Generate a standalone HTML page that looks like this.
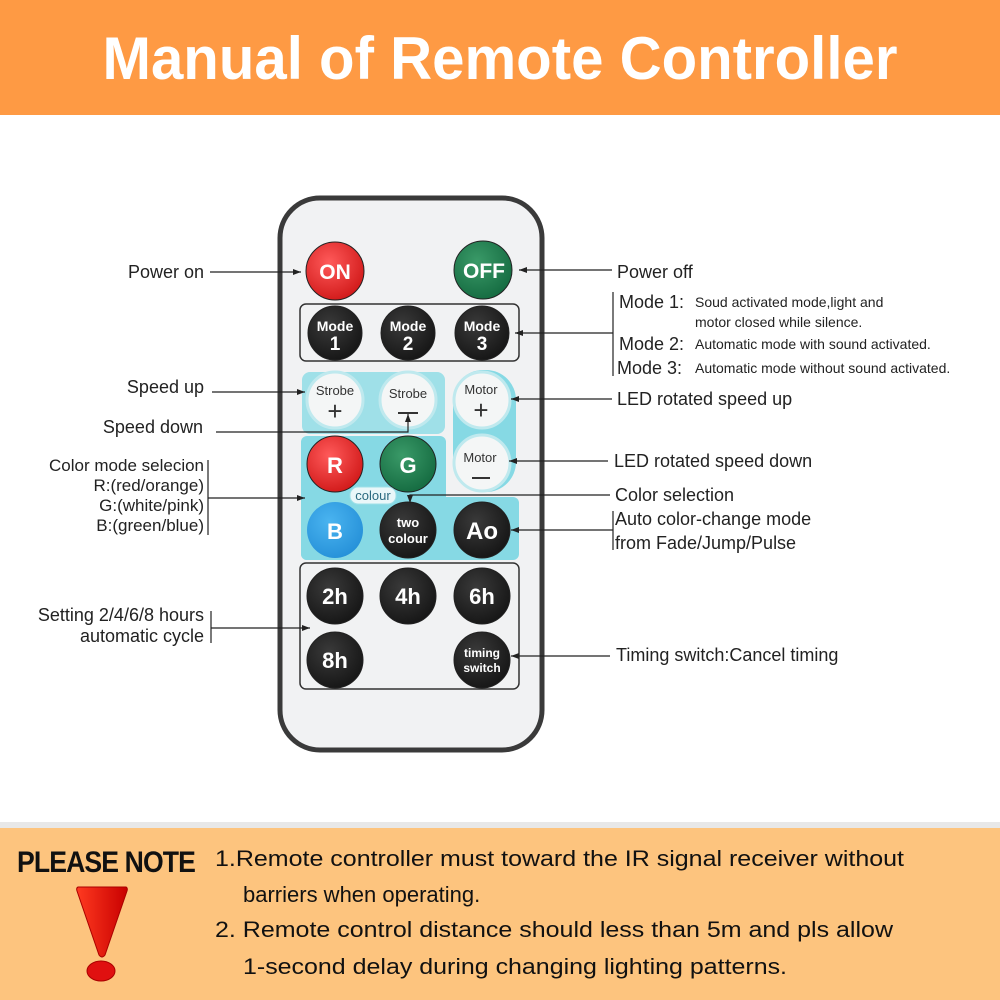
<!DOCTYPE html>
<html><head><meta charset="utf-8"><style>
html,body{margin:0;padding:0;background:#fff}
svg{display:block}
text{font-family:"Liberation Sans",sans-serif}
</style></head><body>
<svg width="1000" height="1000" viewBox="0 0 1000 1000" xmlns="http://www.w3.org/2000/svg">
<defs>
<marker id="a" markerWidth="8" markerHeight="6" refX="8" refY="3" orient="auto" markerUnits="userSpaceOnUse"><path d="M0,0 L8,3 L0,6 Z" fill="#222"/></marker>
<radialGradient id="red" cx="0.4" cy="0.35" r="0.7"><stop offset="0" stop-color="#ff5a5a"/><stop offset="1" stop-color="#d01818"/></radialGradient>
<radialGradient id="grn" cx="0.4" cy="0.35" r="0.7"><stop offset="0" stop-color="#3a9a68"/><stop offset="1" stop-color="#146a40"/></radialGradient>
<radialGradient id="blk" cx="0.4" cy="0.35" r="0.7"><stop offset="0" stop-color="#3a3a3a"/><stop offset="1" stop-color="#151515"/></radialGradient>
<radialGradient id="blu" cx="0.4" cy="0.35" r="0.7"><stop offset="0" stop-color="#4ab4f0"/><stop offset="1" stop-color="#2590d8"/></radialGradient>
<linearGradient id="ex" x1="0" y1="0" x2="1" y2="0"><stop offset="0" stop-color="#ff3a20"/><stop offset="1" stop-color="#c80000"/></linearGradient>
</defs>
<rect x="0" y="0" width="1000" height="115" fill="#FE9A44"/>
<text x="500" y="79" text-anchor="middle" font-size="60" font-weight="bold" fill="#fff" textLength="795" lengthAdjust="spacingAndGlyphs">Manual of Remote Controller</text>

<rect x="280" y="198" width="262" height="552" rx="40" fill="#f1f2f3" stroke="#3a3a3a" stroke-width="5"/>
<rect x="300" y="304" width="219" height="57" rx="6" fill="none" stroke="#333" stroke-width="1.5"/>
<rect x="300" y="563" width="219" height="126" rx="6" fill="none" stroke="#333" stroke-width="1.5"/>
<rect x="302" y="372" width="143" height="62" rx="8" fill="#9fe0e8"/>
<rect x="301" y="436" width="145" height="124" rx="6" fill="#86d9e4"/>
<rect x="301" y="497" width="218" height="63" rx="6" fill="#86d9e4"/>
<rect x="453" y="370" width="63" height="122" rx="30" fill="#86d9e4"/>
<g stroke="#222" stroke-width="1">
<circle cx="335" cy="271" r="29" fill="url(#red)"/>
<circle cx="483" cy="270" r="29" fill="url(#grn)"/>
<circle cx="335" cy="333" r="27" fill="url(#blk)"/>
<circle cx="408" cy="333" r="27" fill="url(#blk)"/>
<circle cx="482" cy="333" r="27" fill="url(#blk)"/>
<circle cx="335" cy="464" r="28" fill="url(#red)"/>
<circle cx="408" cy="464" r="28" fill="url(#grn)"/>
<circle cx="335" cy="530" r="28" fill="url(#blu)" stroke="none"/>
<circle cx="408" cy="530" r="28" fill="url(#blk)"/>
<circle cx="482" cy="530" r="28" fill="url(#blk)"/>
<circle cx="335" cy="596" r="28" fill="url(#blk)"/>
<circle cx="408" cy="596" r="28" fill="url(#blk)"/>
<circle cx="482" cy="596" r="28" fill="url(#blk)"/>
<circle cx="335" cy="660" r="28" fill="url(#blk)"/>
<circle cx="482" cy="660" r="28" fill="url(#blk)"/>
</g>
<g fill="#f4f6f6" stroke="#bfe9ee" stroke-width="3">
<circle cx="335" cy="400" r="28"/>
<circle cx="408" cy="400" r="28"/>
<circle cx="482" cy="400" r="28"/>
<circle cx="482" cy="463" r="28"/>
</g>
<rect x="350" y="487" width="46" height="17" rx="8" fill="#e9f7f9" stroke="#9fe0e8"/>
<text x="373" y="500" text-anchor="middle" font-size="13" fill="#2a6a80">colour</text>
<g fill="#fff" text-anchor="middle" font-weight="bold">
<text x="335" y="279" font-size="21">ON</text>
<text x="484" y="278" font-size="21">OFF</text>
<text x="335" y="331" font-size="14">Mode</text><text x="335" y="350" font-size="19">1</text>
<text x="408" y="331" font-size="14">Mode</text><text x="408" y="350" font-size="19">2</text>
<text x="482" y="331" font-size="14">Mode</text><text x="482" y="350" font-size="19">3</text>
<text x="335" y="473" font-size="22">R</text>
<text x="408" y="473" font-size="22">G</text>
<text x="335" y="539" font-size="22">B</text>
<text x="408" y="527" font-size="13">two</text><text x="408" y="543" font-size="13">colour</text>
<text x="482" y="539" font-size="24">Ao</text>
<text x="335" y="604" font-size="22">2h</text>
<text x="408" y="604" font-size="22">4h</text>
<text x="482" y="604" font-size="22">6h</text>
<text x="335" y="668" font-size="22">8h</text>
<text x="482" y="657" font-size="12">timing</text><text x="482" y="672" font-size="12">switch</text>
</g>
<g fill="#333" text-anchor="middle">
<text x="335" y="395" font-size="13">Strobe</text><text x="335" y="420" font-size="26">+</text>
<text x="408" y="398" font-size="13">Strobe</text><rect x="398" y="412" width="20" height="2"/>
<text x="481" y="394" font-size="13">Motor</text><text x="481" y="419" font-size="26">+</text>
<text x="480" y="462" font-size="13">Motor</text><rect x="472" y="477" width="18" height="2"/>
</g>

<g stroke="#222" stroke-width="1.2" fill="none">
<line x1="210" y1="272" x2="301" y2="272" marker-end="url(#a)"/>
<line x1="612" y1="270" x2="519" y2="270" marker-end="url(#a)"/>
<line x1="613" y1="292" x2="613" y2="376"/>
<line x1="613" y1="333" x2="515" y2="333" marker-end="url(#a)"/>
<line x1="212" y1="392" x2="305" y2="392" marker-end="url(#a)"/>
<polyline points="216,432 408,432 408,414" marker-end="url(#a)"/>
<line x1="208" y1="460" x2="208" y2="535"/>
<line x1="208" y1="498" x2="305" y2="498" marker-end="url(#a)"/>
<line x1="211" y1="611" x2="211" y2="643"/>
<line x1="211" y1="628" x2="310" y2="628" marker-end="url(#a)"/>
<line x1="612" y1="399" x2="511" y2="399" marker-end="url(#a)"/>
<line x1="608" y1="461" x2="509" y2="461" marker-end="url(#a)"/>
<polyline points="610,495 410,495 410,503" marker-end="url(#a)"/>
<line x1="613" y1="511" x2="613" y2="550"/>
<line x1="613" y1="530" x2="511" y2="530" marker-end="url(#a)"/>
<line x1="610" y1="656" x2="511" y2="656" marker-end="url(#a)"/>
</g>
<g fill="#222" font-size="18">
<text x="204" y="278" text-anchor="end">Power on</text>
<text x="617" y="278">Power off</text>
<text x="619" y="308">Mode 1:</text><text x="695" y="307" font-size="14">Soud activated mode,light and</text>
<text x="695" y="327" font-size="14">motor closed while silence.</text>
<text x="619" y="350">Mode 2:</text><text x="695" y="349" font-size="14">Automatic mode with sound activated.</text>
<text x="617" y="374">Mode 3:</text><text x="695" y="373" font-size="14">Automatic mode without sound activated.</text>
<text x="204" y="393" text-anchor="end">Speed up</text>
<text x="203" y="433" text-anchor="end">Speed down</text>
<text x="204" y="471" text-anchor="end" font-size="17">Color mode selecion</text>
<text x="204" y="491" text-anchor="end" font-size="17">R:(red/orange)</text>
<text x="204" y="511" text-anchor="end" font-size="17">G:(white/pink)</text>
<text x="204" y="531" text-anchor="end" font-size="17">B:(green/blue)</text>
<text x="204" y="621" text-anchor="end">Setting 2/4/6/8 hours</text>
<text x="204" y="642" text-anchor="end">automatic cycle</text>
<text x="617" y="405">LED rotated speed up</text>
<text x="614" y="467">LED rotated speed down</text>
<text x="615" y="501">Color selection</text>
<text x="615" y="525">Auto color-change mode</text>
<text x="615" y="549">from Fade/Jump/Pulse</text>
<text x="616" y="661">Timing switch:Cancel timing</text>
</g>

<rect x="0" y="822" width="1000" height="8" fill="#e8e8e8"/>
<rect x="0" y="828" width="1000" height="172" fill="#FDC47E"/>
<text x="17" y="872" font-size="30" font-weight="bold" fill="#111" textLength="178" lengthAdjust="spacingAndGlyphs" letter-spacing="-1">PLEASE NOTE</text>
<path d="M78,887 L126,887 Q128,888 127,891 L105,955 Q102,959 99,955 L77,891 Q76,888 78,887 Z" fill="url(#ex)" stroke="#a00" stroke-width="1"/>
<ellipse cx="101" cy="971" rx="14" ry="10" fill="#e01010" stroke="#a00"/>
<g fill="#111" font-size="22">
<text x="215" y="866" textLength="689" lengthAdjust="spacingAndGlyphs">1.Remote controller must toward the IR signal receiver without</text>
<text x="243" y="902">barriers when operating.</text>
<text x="215" y="937" textLength="678" lengthAdjust="spacingAndGlyphs">2. Remote control distance should less than 5m and pls allow</text>
<text x="243" y="974" textLength="544" lengthAdjust="spacingAndGlyphs">1-second delay during changing lighting patterns.</text>
</g>
</svg>
</body></html>
